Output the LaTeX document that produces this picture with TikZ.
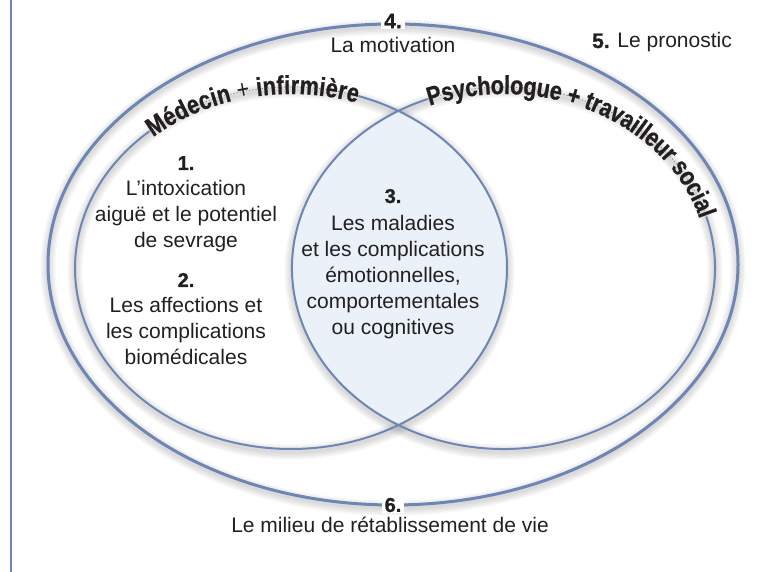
\documentclass[tikz,border=0pt]{standalone}
\usepackage{fontspec}
\setmainfont{Liberation Sans}
\newfontfamily\arcfont[FakeStretch=0.83, BoldFeatures={FakeBold=0.8}]{Liberation Sans}
\newfontfamily\heavyfont[BoldFeatures={FakeBold=1}]{Liberation Sans}
\usetikzlibrary{calc,decorations.text}
\definecolor{ringc}{RGB}{110,134,180}
\definecolor{lensc}{RGB}{234,241,249}
\definecolor{txtc}{RGB}{35,31,32}
\newcommand\arcstyle{\arcfont\bfseries\fontsize{26}{26}\selectfont\color{txtc}}
\newcommand\arcthin{\arcfont\mdseries\fontsize{26}{26}\selectfont\color{txtc}}

\begin{document}
\begin{tikzpicture}[x=1pt, y=1pt,
	ring/.style={draw=ringc, line width=2pt},
	outerring/.style={draw=ringc, line width=3pt},
	ringshadow/.style={draw=black, opacity=0.03},
	dotgap/.style={draw=ringc, line width=0.8pt, dash pattern=on 1.2pt off 2pt},
	body/.style={font=\fontsize{21}{26}\selectfont, text=txtc, align=center, inner sep=0pt},
	numlab/.style={font=\fontsize{20}{20}\selectfont\heavyfont\bfseries, text=txtc, inner sep=0pt},
	numcut/.style={numlab, fill=white, inner xsep=3pt, inner ysep=1pt}]
	 \useasboundingbox (0,0) rectangle (776,572);
	 \draw[ringc, line width=1.2pt] (11,0) -- (11,572);

	 \coordinate (oc) at (393,307.5);
	 \coordinate (lc) at (291,304);
	 \coordinate (rc) at (503.5,304);
	 \coordinate (ls) at ($(lc)+(131:216 and 181)$);
	 \coordinate (rs) at ($(rc)+(111:211.5 and 181)$);

	 % soft shadow
	 \foreach \w in {3,6,9,12,15}{
	   \draw[ringshadow, line width=\w pt] ([yshift=-3pt]oc) ellipse [x radius=345, y radius=240.5];
	   \draw[ringshadow, line width=\w pt] ([yshift=-3pt]lc) ellipse [x radius=216, y radius=181];
	   \draw[ringshadow, line width=\w pt] ([yshift=-3pt]rc) ellipse [x radius=211.5, y radius=181];
	 }

	 % lens
	 \begin{scope}
	   \clip (lc) ellipse [x radius=216, y radius=181];
	   \fill[lensc] (rc) ellipse [x radius=211.5, y radius=181];
	 \end{scope}

	 \draw[outerring] (oc) ellipse [x radius=345, y radius=240.5];
	 \draw[ring] (ls) arc[start angle=131, end angle=431.8, x radius=216, y radius=181];
	 \draw[ring] (rs) arc[start angle=111, end angle=376.5, x radius=211.5, y radius=181];
	 \draw[dotgap] (ls) arc[start angle=131, end angle=71.8, x radius=216, y radius=181];
	 \draw[dotgap] (rs) arc[start angle=111, end angle=16.5, x radius=211.5, y radius=181];

	 \path[decorate, decoration={text along path, raise=-7pt,
	   text align={fit to path},
	   text={|\arcstyle|Médecin |\arcthin|+|\arcstyle| infirmière}}]
	   (ls) arc[start angle=131, end angle=71.8, x radius=216, y radius=181];
	 \path[decorate, decoration={text along path, raise=-7pt,
	   text align={fit to path},
	   text={|\arcstyle|Psychologue + travailleur social}}]
	   (rs) arc[start angle=111, end angle=16.5, x radius=211.5, y radius=181];

	 \node[numcut, font=\fontsize{21}{21}\selectfont\heavyfont\bfseries] (n4) at (393,551) {4.};
	 \node[body, anchor=base] (motiv) at (393,519) {La motivation};
	 \node[body, anchor=base] (prono) at (662,524) {{\heavyfont\bfseries 5.} Le pronostic};

	 \node[numlab, anchor=base] (n1) at (186,402) {1.};
	 \node[body, anchor=base] (intox) at (186,324) {L’intoxication\\aiguë et le potentiel\\de sevrage};
	 \node[numlab, anchor=base] (n2) at (186,285) {2.};
	 \node[body, anchor=base] (biomed) at (186,207) {Les affections et\\les complications\\biomédicales};

	 \node[numlab, anchor=base] (n3) at (393,369) {3.};
	 \node[body, anchor=base] (emot) at (393,237) {Les maladies\\et les complications\\émotionnelles,\\comportementales\\ou cognitives};

	 \node[numcut] (n6) at (393,67) {6.};
	 \node[body, anchor=base] (milieu) at (390,39) {Le milieu de rétablissement de vie};
\end{tikzpicture}
\end{document}
